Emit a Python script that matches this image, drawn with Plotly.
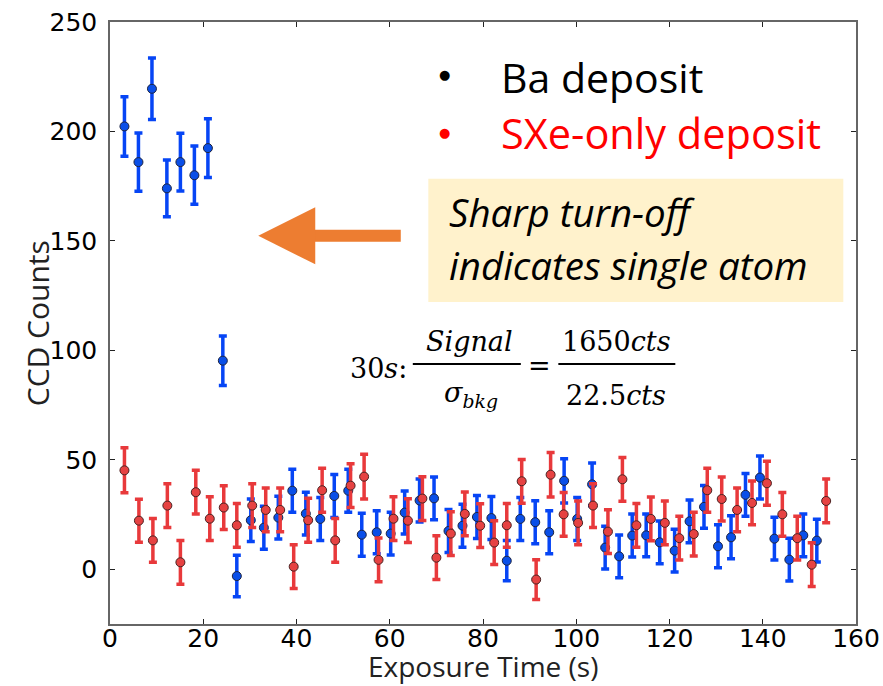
import plotly.graph_objects as go

# Ba deposit series: exposure time (s), CCD counts, 1-sigma error
ba_time = [3.1, 6.1, 9.0, 12.2, 15.1, 18.1, 21.0, 24.2, 27.2, 30.2,
           33.0, 36.1, 39.1, 42.0, 45.1, 48.1, 51.1, 54.0, 57.2, 60.2,
           63.2, 66.4, 69.5, 72.6, 75.6, 78.7, 81.8, 85.1, 88.0, 91.2,
           94.2, 97.4, 100.2, 103.4, 106.2, 109.2, 112.0, 115.0, 117.9, 121.1,
           124.3, 127.4, 130.4, 133.2, 136.3, 139.4, 142.5, 145.7, 148.7, 151.6]
ba_counts = [202.3, 186.0, 219.5, 174.0, 186.0, 180.0, 192.4, 95.3, -3.1, 22.4,
             19.0, 23.6, 35.9, 25.4, 23.0, 33.5, 35.9, 15.8, 16.9, 16.3,
             25.9, 31.4, 32.4, 17.5, 19.9, 23.9, 23.4, 3.9, 23.0, 21.5,
             16.9, 40.4, 23.0, 38.8, 9.9, 5.9, 15.4, 15.5, 12.3, 8.5,
             21.9, 28.5, 10.5, 14.6, 34.0, 41.9, 14.0, 4.4, 15.5, 13.1]
ba_err = [13.6, 13.3, 14.0, 13.0, 13.2, 13.3, 13.4, 11.3, 9.5, 9.7,
          9.8, 9.8, 9.8, 9.8, 9.8, 9.8, 9.8, 9.8, 9.8, 9.8,
          9.8, 9.8, 9.8, 9.8, 9.8, 9.8, 9.8, 9.2, 9.8, 9.8,
          9.8, 10.1, 9.8, 9.8, 9.8, 9.8, 9.8, 9.8, 9.8, 9.8,
          9.8, 9.8, 9.8, 9.8, 9.8, 9.8, 9.8, 9.8, 9.8, 9.8]

# SXe-only deposit series
sxe_time = [3.1, 6.2, 9.2, 12.3, 15.1, 18.4, 21.4, 24.4, 27.2, 30.5,
            33.4, 36.5, 39.4, 42.5, 45.5, 48.3, 51.6, 54.5, 57.6, 60.8,
            63.9, 67.0, 70.0, 73.1, 76.1, 79.4, 82.4, 85.1, 88.3, 91.4,
            94.5, 97.3, 100.4, 103.6, 106.8, 109.9, 112.9, 116.0, 119.0, 122.1,
            125.2, 128.1, 131.2, 134.5, 137.7, 140.9, 144.2, 147.4, 150.5, 153.6]
sxe_counts = [45.2, 22.2, 13.2, 29.1, 3.2, 35.2, 23.1, 28.2, 20.1, 29.1,
              27.1, 27.1, 1.2, 22.4, 36.1, 13.2, 38.2, 42.3, 4.3, 23.1,
              22.2, 32.3, 5.3, 16.3, 25.3, 19.9, 12.2, 20.1, 40.2, -4.7,
              43.2, 25.1, 21.2, 29.1, 17.2, 41.1, 20.1, 23.0, 21.2, 14.2,
              16.1, 36.1, 32.1, 27.1, 30.3, 39.3, 25.1, 14.2, 2.1, 31.2]
sxe_err = [10.3, 9.8, 10.0, 10.0, 10.0, 10.0, 10.0, 10.0, 10.0, 10.0,
           10.0, 10.0, 10.0, 10.0, 10.0, 10.0, 10.0, 10.2, 10.0, 10.0,
           10.0, 10.0, 10.0, 10.0, 10.0, 10.0, 10.0, 10.0, 10.0, 9.1,
           10.2, 10.0, 10.0, 10.0, 10.0, 10.0, 10.0, 10.0, 10.0, 10.0,
           10.0, 10.0, 10.0, 10.0, 10.0, 10.0, 10.0, 10.0, 10.0, 10.0]

x_ticks = [0, 20, 40, 60, 80, 100, 120, 140, 160]
y_ticks = [0, 50, 100, 150, 200, 250]

BLUE = "#0645f5"
RED = "#e8393b"
ORANGE = "#ed7d31"
SANS = "Open Sans"
SERIF = "DejaVu Serif"

fig = go.Figure()

fig.add_trace(go.Scatter(
    x=ba_time, y=ba_counts, mode="markers", name="Ba deposit",
    marker=dict(size=9, color="#0a4fe8", line=dict(color="#1c2340", width=1)),
    error_y=dict(type="data", array=ba_err, color=BLUE, thickness=3.5, width=4),
))
fig.add_trace(go.Scatter(
    x=sxe_time, y=sxe_counts, mode="markers", name="SXe-only deposit",
    marker=dict(size=9, color="#e64242", line=dict(color="#4a2222", width=1)),
    error_y=dict(type="data", array=sxe_err, color=RED, thickness=3.5, width=4),
))

axis_common = dict(
    showline=True, linecolor="#666666", linewidth=1.5, mirror="ticks",
    ticks="inside", ticklen=5, tickwidth=1, tickcolor="#222222",
    showgrid=False, zeroline=False, automargin=False,
    tickfont=dict(family="DejaVu Sans", size=25, color="black"),
)

fig.update_xaxes(range=[0, 160], tickvals=x_ticks, ticklabelstandoff=-9, **axis_common)
fig.update_yaxes(range=[-25, 250], tickvals=y_ticks, ticklabelstandoff=6, **axis_common)

annotations = [
    # axis titles
    dict(x=0.5, y=-0.069, text="Exposure Time (s)", font=dict(family=SANS, size=28, color="#222")),
    dict(x=-0.0975, y=0.5, text="CCD Counts", textangle=-90, font=dict(family=SANS, size=30, color="#222")),
    # series key
    dict(x=0.448, y=0.912, text="●", font=dict(family="DejaVu Sans", size=13, color="black")),
    dict(x=0.522, y=0.909, text="Ba deposit", xanchor="left", font=dict(family=SANS, size=41, color="black")),
    dict(x=0.448, y=0.816, text="●", font=dict(family="DejaVu Sans", size=13, color="red")),
    dict(x=0.522, y=0.815, text="SXe-only deposit", xanchor="left", font=dict(family=SANS, size=41.5, color="red")),
    # callout text
    dict(x=0.452, y=0.685, text="<i>Sharp turn-off</i>", xanchor="left", font=dict(family=SANS, size=38.5, color="black")),
    dict(x=0.452, y=0.596, text="<i>indicates single atom</i>", xanchor="left", font=dict(family=SANS, size=38.5, color="black")),
    # signal-to-background ratio
    dict(x=0.360, y=0.424, text="30<i>s</i>:", font=dict(family=SERIF, size=27, color="black")),
    dict(x=0.4823, y=0.469, text="<i>Signal</i>", font=dict(family=SERIF, size=27, color="black")),
    dict(x=0.4843, y=0.381, text="<i>σ</i><sub><i>bkg</i></sub>", font=dict(family=SERIF, size=27, color="black")),
    dict(x=0.5755, y=0.430, text="=", font=dict(family=SERIF, size=27, color="black")),
    dict(x=0.6789, y=0.469, text="1650<i>cts</i>", font=dict(family=SERIF, size=27, color="black")),
    dict(x=0.6789, y=0.379, text="22.5<i>cts</i>", font=dict(family=SERIF, size=27, color="black")),
]
for a in annotations:
    a.update(xref="paper", yref="paper", showarrow=False)
    a.setdefault("xanchor", "center")
    a.setdefault("yanchor", "middle")

# big orange arrow pointing back to the bright early frames
annotations.append(dict(
    x=31.8, y=152.3, xref="x", yref="y", ax=144, ay=0, text="",
    showarrow=True, arrowhead=2, arrowsize=0.95, arrowwidth=12,
    arrowcolor=ORANGE, standoff=0, startstandoff=0,
))

shapes = [
    dict(type="rect", xref="paper", yref="paper", x0=0.4267, x1=0.983, y0=0.535, y1=0.7396,
         fillcolor="#fff2cc", line=dict(width=0), layer="below"),
    dict(type="line", xref="paper", yref="paper", x0=0.4059, x1=0.5507, y0=0.4321, y1=0.4321,
         line=dict(color="black", width=2)),
    dict(type="line", xref="paper", yref="paper", x0=0.601, x1=0.7578, y0=0.4321, y1=0.4321,
         line=dict(color="black", width=2)),
]

fig.update_layout(
    width=883, height=686,
    margin=dict(l=110, r=27, t=22, b=62),
    paper_bgcolor="white", plot_bgcolor="white",
    showlegend=False,
    annotations=annotations, shapes=shapes,
)

fig.write_html("out.html")
